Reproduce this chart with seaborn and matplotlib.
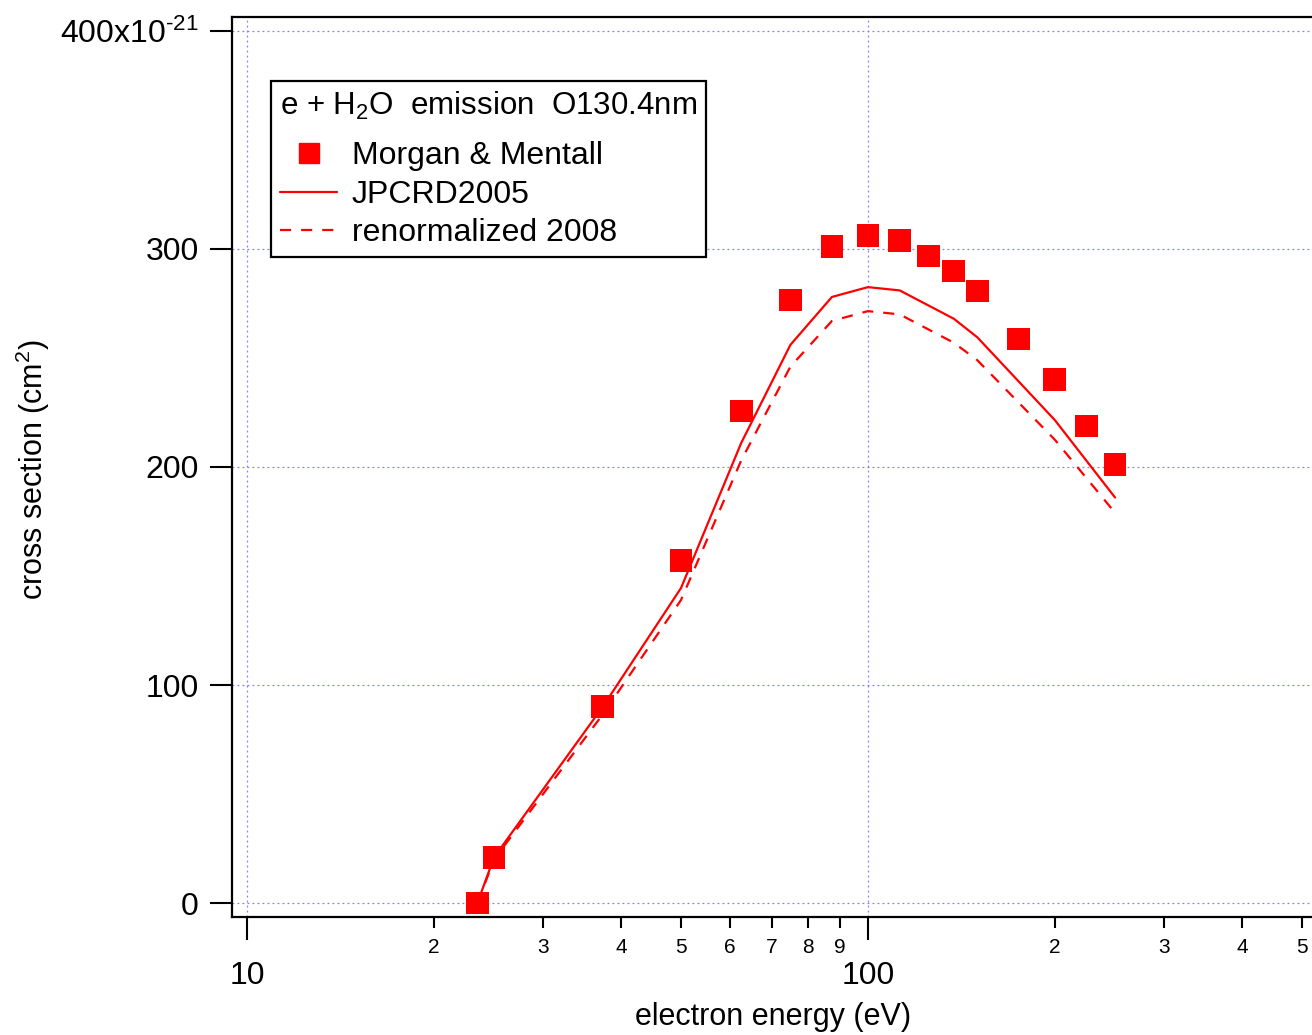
import matplotlib
matplotlib.use("Agg")
import matplotlib.pyplot as plt
import seaborn as sns
import pandas as pd
from matplotlib.lines import Line2D

# ---- data ----
mm_energy = [23.5, 25.0, 37.4, 50.0, 62.5, 75.0, 87.5, 100.0, 112.5, 125.0, 137.5, 150.0, 175.0, 200.0, 225.0, 250.0]
mm_cross = [0.0, 21.0, 90.0, 157.0, 225.7, 276.6, 301.0, 306.0, 303.7, 296.8, 289.9, 280.7, 258.7, 240.0, 218.8, 201.0]

line_energy = [23.5, 25.0, 37.4, 50.0, 62.5, 75.0, 87.5, 100.0, 112.5, 137.5, 150.0, 200.0, 250.0]
jpcrd2005 = [0.0, 21.0, 90.0, 144.5, 211.0, 256.0, 278.0, 282.5, 281.0, 268.0, 259.5, 221.5, 186.0]
renorm2008 = [0.0, 20.0, 86.5, 139.0, 203.0, 246.0, 267.0, 271.5, 270.0, 257.0, 249.0, 212.5, 179.0]

legend_title = "e + H$_2$O  emission  O130.4nm"
series_labels = ["Morgan & Mentall", "JPCRD2005", "renormalized 2008"]
x_major_ticks = [10, 100]
x_major_labels = ["10", "100"]
x_minor_ticks = [20, 30, 40, 50, 60, 70, 80, 90, 200, 300, 400, 500]
x_minor_labels = ["2", "3", "4", "5", "6", "7", "8", "9", "2", "3", "4", "5"]
y_ticks = [0, 100, 200, 300, 400]
y_labels = ["0", "100", "200", "300", r"400x10$^{\text{-21}}$"]

# ---- style ----
sns.set_style("ticks")
plt.rcParams["font.family"] = ["Liberation Sans", "DejaVu Sans"]
plt.rcParams["mathtext.default"] = "regular"
plt.rcParams["mathtext.fontset"] = "custom"
plt.rcParams["mathtext.rm"] = "Liberation Sans"
plt.rcParams["mathtext.it"] = "Liberation Sans"
plt.rcParams["axes.unicode_minus"] = False

red = "#ff0000"
grid_color = "#8080ff"

fig = plt.figure(figsize=(13.12, 10.35), dpi=100)
ax = fig.add_axes([232 / 1312, 118 / 1035, 1080 / 1312, 900 / 1035])

df_mm = pd.DataFrame({"energy": mm_energy, "cross": mm_cross})
df_lines = pd.DataFrame({"energy": line_energy, "jpcrd": jpcrd2005, "renorm": renorm2008})

sns.lineplot(data=df_lines, x="energy", y="jpcrd", ax=ax, color=red, lw=1.6,
             sort=False, estimator=None, zorder=3)
sns.lineplot(data=df_lines, x="energy", y="renorm", ax=ax, color=red, lw=1.6,
             sort=False, estimator=None, zorder=3)
ax.lines[-1].set_linestyle((0, (5, 4.5)))
sns.scatterplot(data=df_mm, x="energy", y="cross", ax=ax, marker="s", s=270,
                color=red, edgecolor="none", linewidth=0, zorder=4)

ax.set_xscale("log")
ax.set_xlim(9.46, 518.9)
ax.set_ylim(-6.4, 406.4)

ax.set_xticks(x_major_ticks)
ax.set_xticklabels(x_major_labels)
ax.set_xticks(x_minor_ticks, minor=True)
ax.set_xticklabels(x_minor_labels, minor=True)
ax.set_yticks(y_ticks)
ax.set_yticklabels(y_labels)

ax.tick_params(axis="x", which="major", direction="out", length=16.5, width=1.5,
               labelsize=23, pad=15, color="black", labelcolor="black")
ax.tick_params(axis="x", which="minor", direction="out", length=8, width=1.5,
               labelsize=15, pad=7, color="black", labelcolor="black")
ax.tick_params(axis="y", which="major", direction="out", length=16, width=1.5,
               labelsize=23, pad=8, color="black", labelcolor="black")
ax.tick_params(axis="y", which="minor", left=False)

for side in ["left", "bottom", "top"]:
    ax.spines[side].set_visible(True)
    ax.spines[side].set_linewidth(1.6)
    ax.spines[side].set_color("black")
ax.spines["right"].set_visible(False)

ax.grid(True, which="major", axis="both", color=grid_color, linestyle=(0, (1.5, 2.5)), lw=0.9)
ax.grid(False, which="minor")

ax.set_xlabel("electron energy (eV)", fontsize=22, color="black")
ax.xaxis.set_label_coords((773 - 232) / 1080, -(1002 - 917) / 900)
ax.set_ylabel("cross section (cm$^{2}$)", fontsize=22, color="black")
ax.yaxis.set_label_coords(-(232 - 52) / 1080, (917 - 470) / 900)

handles = [
    Line2D([], [], marker="s", markersize=15, color=red, linestyle="none"),
    Line2D([], [], color=red, lw=1.6),
    Line2D([], [], color=red, lw=1.6, linestyle=(0, (5, 4.5))),
]
leg = ax.legend(handles, series_labels, title=legend_title, loc="upper left",
                bbox_to_anchor=(271 / 1312, 1 - 81 / 1035), bbox_transform=fig.transFigure,
                fontsize=23, title_fontsize=22.5, frameon=True, fancybox=False,
                framealpha=1, edgecolor="black", handlelength=1.8, handletextpad=0.45,
                labelspacing=0.26, borderpad=0.28, alignment="left", borderaxespad=0)
leg.get_frame().set_linewidth(1.6)
leg._legend_box.sep = 14
for t in leg.get_texts():
    t.set_color("black")
leg.get_title().set_color("black")

fig.savefig("out.png", dpi=100)
